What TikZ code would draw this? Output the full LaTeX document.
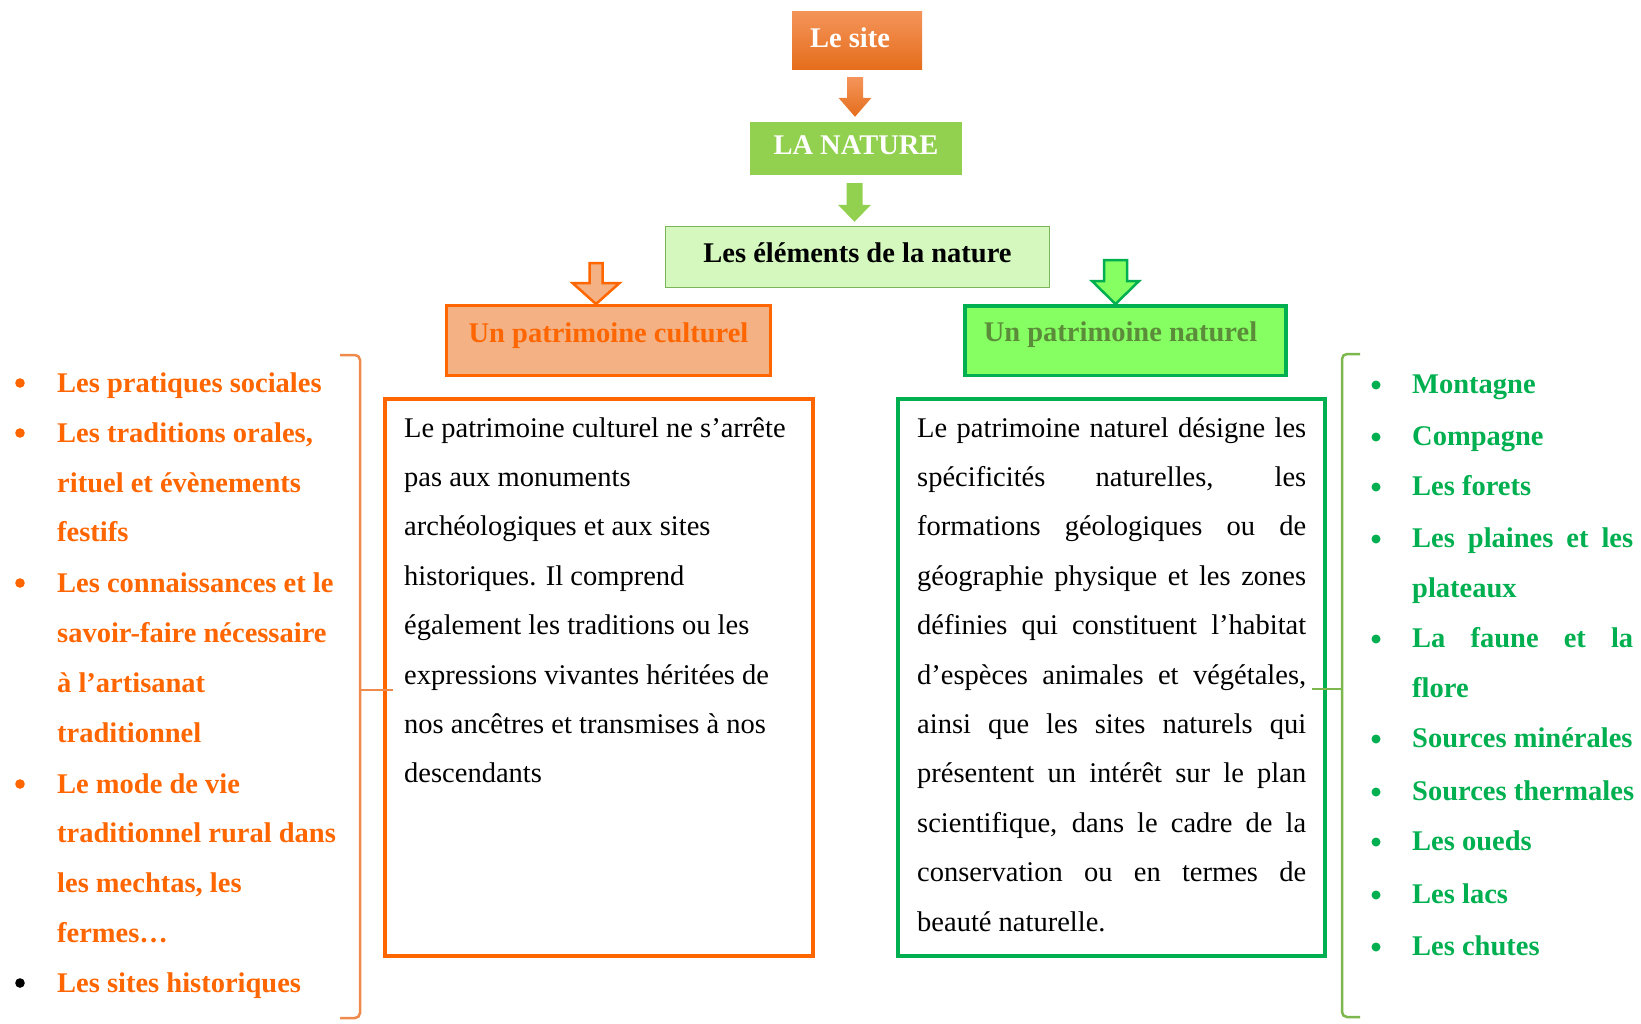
\documentclass[tikz,border=0pt]{standalone}
\usepackage{fontspec}
\setmainfont{Liberation Serif}
\usetikzlibrary{calc}
\definecolor{orng}{HTML}{FF6600}
\definecolor{peach}{HTML}{F4B183}
\definecolor{grnB}{HTML}{00B050}
\definecolor{lime}{HTML}{92D050}
\definecolor{pale}{HTML}{D4F8BE}
\definecolor{paleB}{HTML}{7CB45A}
\definecolor{brightg}{HTML}{86FF62}
\definecolor{olive}{HTML}{5B8C3A}
\definecolor{siteT}{HTML}{F4945A}
\definecolor{siteB}{HTML}{E56E1C}
\definecolor{braceO}{HTML}{EE8B4C}
\definecolor{braceG}{HTML}{7DB84E}
\newcommand\blkarrow[6]{%
 \path[#1] let \p1=(#2), \p2=(#3) in
 (\x1-#4pt,\y1) -- (\x1+#4pt,\y1) -- (\x1+#4pt,\y2+#6pt) -- (\x1+#5pt,\y2+#6pt)
 -- (\x1,\y2) -- (\x1-#5pt,\y2+#6pt) -- (\x1-#4pt,\y2+#6pt) -- cycle;}
\newcommand\jl[1]{\makebox[389pt][s]{#1}}
\newcommand\jr[1]{\makebox[221pt][s]{#1}}
\tikzset{
 regf/.style={font=\fontsize{28.5}{49.4}\selectfont},
 boldf/.style={font=\fontsize{28.5}{49.4}\selectfont\bfseries},
 bodyline/.style={anchor=base west, inner sep=0pt, regf, text=black},
 leftitem/.style={anchor=base west, inner sep=0pt, boldf, text=orng},
 rightitem/.style={anchor=base west, inner sep=0pt, boldf, text=grnB},
 titlebox/.style={inner sep=0pt, boldf},
}
\begin{document}
\begin{tikzpicture}[x=1pt,y=-1pt]
\useasboundingbox[fill=white] (0,0) rectangle (1641,1023);

% top chain
\node[titlebox, top color=siteT, bottom color=siteB, text=white,
  minimum width=130pt, minimum height=58pt, text height=20pt, text depth=6pt]
  (site) at (857,40) {Le site\hspace*{14pt}};
\node[titlebox, fill=lime, text=white,
  minimum width=212pt, minimum height=53pt, text height=20pt, text depth=9pt]
  (nature) at (856,148.5) {LA NATURE};
\node[titlebox, fill=pale, draw=paleB, line width=1.5pt, text=black,
  minimum width=384pt, minimum height=61pt, text height=20pt, text depth=10pt]
  (elem) at (857.5,257) {Les éléments de la nature};
\node[titlebox, fill=peach, draw=orng, line width=3pt, text=orng,
  minimum width=324pt, minimum height=70pt, text height=20pt, text depth=17pt]
  (cult) at (608.5,340.5) {Un patrimoine culturel};
\node[titlebox, fill=brightg, draw=grnB, line width=3.5pt, text=olive,
  minimum width=321pt, minimum height=69.5pt, text height=20pt, text depth=19pt]
  (nat) at (1125.5,340.5) {Un patrimoine naturel\hspace*{10pt}};

% block arrows
\coordinate (a1s) at ($(site.south)+(-2,8)$);
\coordinate (a1e) at ($(nature.north)+(0,-5)$);
\coordinate (a2s) at ($(nature.south)+(-1.5,8)$);
\coordinate (a2e) at ($(elem.north)+(0,-4)$);
\coordinate (a3s) at ($(cult.north)+(-12.5,-41)$);
\coordinate (a3e) at ($(cult.north)+(-12.5,0)$);
\coordinate (a4s) at ($(nat.north)+(-10,-44)$);
\coordinate (a4e) at ($(nat.north)+(-10,0)$);
\blkarrow{top color=siteT, bottom color=siteB}{a1s}{a1e}{8}{16.5}{19}
\blkarrow{fill=lime}{a2s}{a2e}{8}{16.5}{17}
\blkarrow{fill=peach, draw=orng, line width=2.5pt, line join=miter}{a3s}{a3e}{6.5}{23.5}{21}
\blkarrow{fill=brightg, draw=grnB, line width=2.5pt, line join=miter}{a4s}{a4e}{11.5}{23.5}{23}

% text boxes
\node[draw=orng, line width=4pt, minimum width=428pt, minimum height=557pt, inner sep=0pt]
  (culttxt) at (599,677.5) {};
\node[draw=grnB, line width=4pt, minimum width=427pt, minimum height=557pt, inner sep=0pt]
  (nattxt) at (1111.5,677.5) {};

\foreach \t [count=\i] in {%
 {Le patrimoine culturel ne s’arrête},
 {pas aux monuments},
 {archéologiques et aux sites},
 {historiques. Il comprend},
 {également les traditions ou les},
 {expressions vivantes héritées de},
 {nos ancêtres et transmises à nos},
 {descendants}}
 \node[bodyline] (cl\i) at (404,{437+49.4*(\i-1)}) {\t};

\foreach \t [count=\i] in {%
 {\jl{Le patrimoine naturel désigne les}},
 {\jl{spécificités naturelles, les}},
 {\jl{formations géologiques ou de}},
 {\jl{géographie physique et les zones}},
 {\jl{définies qui constituent l’habitat}},
 {\jl{d’espèces animales et végétales,}},
 {\jl{ainsi que les sites naturels qui}},
 {\jl{présentent un intérêt sur le plan}},
 {\jl{scientifique, dans le cadre de la}},
 {\jl{conservation ou en termes de}},
 {beauté naturelle.}}
 \node[bodyline] (nl\i) at (917,{437+49.4*(\i-1)}) {\t};

% braces
\draw[braceO, line width=2.5pt, rounded corners=5pt] (340,355) -- (360,355) -- (360,1018) -- (340,1018);
\draw[braceO, line width=2.5pt] (360,690) -- (393,690);
\draw[braceG, line width=2.5pt, rounded corners=5pt] (1360,354) -- (1342,354) -- (1342,1017) -- (1360,1017);
\draw[braceG, line width=2.5pt] (1342,689) -- (1312,689);

% left list
\foreach \yy/\t [count=\i] in {392/{Les pratiques sociales}, 442/{Les traditions orales,},
 492/{rituel et évènements}, 541/{festifs}, 592/{Les connaissances et le},
 642/{savoir-faire nécessaire}, 692/{à l’artisanat}, 742/{traditionnel},
 793/{Le mode de vie}, 842/{traditionnel rural dans}, 892/{les mechtas, les},
 942/{fermes…}, 992/{Les sites historiques}}
 \node[leftitem] (ll\i) at (57,\yy) {\t};
\foreach \yy in {392,442,592,793}
 \fill[orng] (20,\yy-9) circle (4.8pt);
\fill[black] (20,983) circle (4.8pt);

% right list
\foreach \yy/\t [count=\i] in {393/{Montagne}, 445/{Compagne}, 495/{Les forets},
 547/{\jr{Les plaines et les}}, 597/{plateaux}, 647/{\jr{La faune et la}}, 697/{flore},
 747/{Sources minérales}, 800/{Sources thermales}, 850/{Les oueds}, 903/{Les lacs},
 955/{Les chutes}}
 \node[rightitem] (rl\i) at (1412,\yy) {\t};
\foreach \yy in {393,445,495,547,647,747,800,850,903,955}
 \fill[grnB] (1376,\yy-8) circle (4.5pt);
\end{tikzpicture}
\end{document}
